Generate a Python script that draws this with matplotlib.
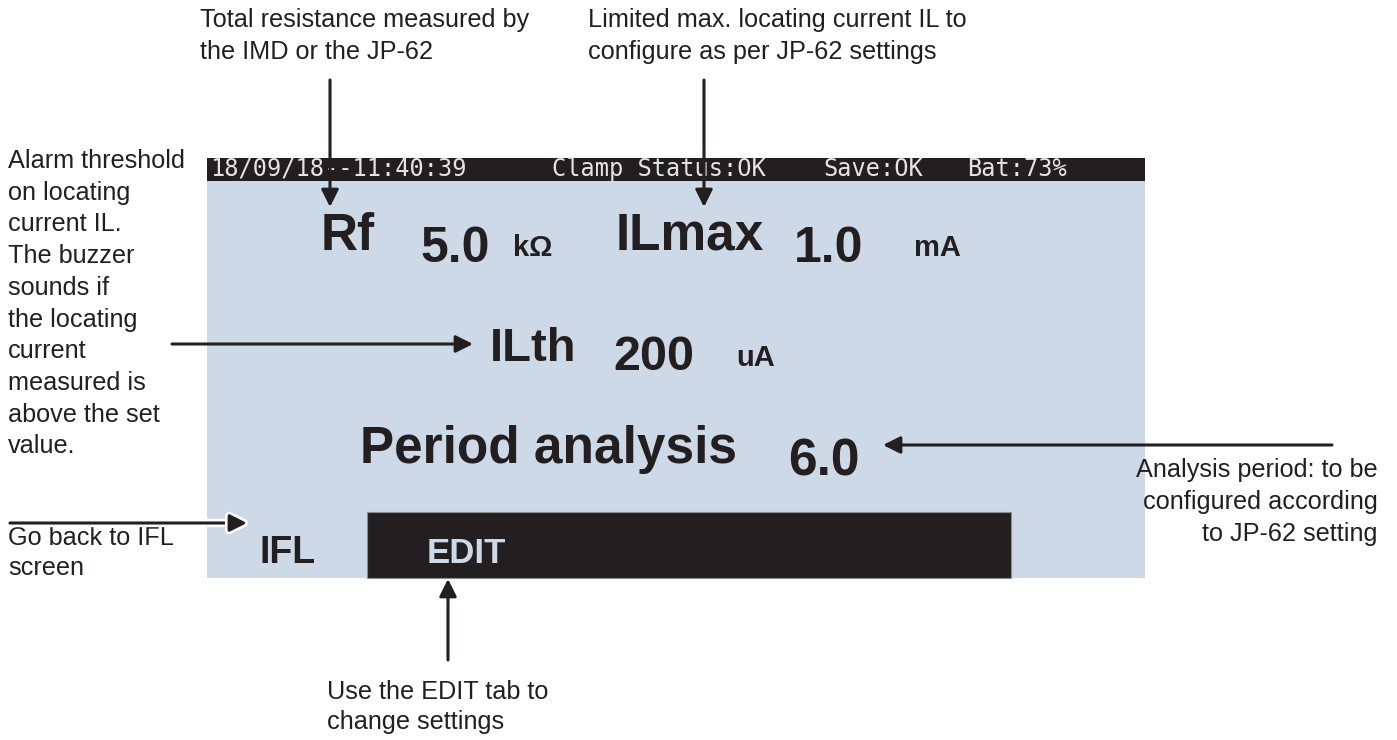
import matplotlib
matplotlib.use("Agg")
import matplotlib.pyplot as plt
from matplotlib.patches import Rectangle
import matplotlib.patheffects as pe

# screen contents
status_items = ["18/09/18--11:40:39", "Clamp Status:OK", "Save:OK", "Bat:73%"]
row1_labels = ["Rf", "ILmax"]
row1_values = ["5.0", "1.0"]
row1_units = ["k\u03a9", "mA"]
ilth_label, ilth_value, ilth_unit = "ILth", "200", "uA"
period_label, period_value = "Period analysis", "6.0"
tabs = ["IFL", "EDIT"]

# callout texts
note_rf = ["Total resistance measured by", "the IMD or the JP-62"]
note_ilmax = ["Limited max. locating current IL to", "configure as per JP-62 settings"]
note_ilth = ["Alarm threshold", "on locating", "current IL.", "The buzzer", "sounds if",
             "the locating", "current", "measured is", "above the set", "value."]
note_period = ["Analysis period: to be", "configured according", "to JP-62 setting"]
note_ifl = ["Go back to IFL", "screen"]
note_edit = ["Use the EDIT tab to", "change settings"]

INK = "#231f20"
LCD = "#cdd9e6"
NOTE_FONT = "Liberation Sans"
LCD_FONT = "Liberation Sans"

fig = plt.figure(figsize=(13.97, 7.40), dpi=100)
ax = fig.add_axes([0, 0, 1, 1])
ax.set_xlim(0, 1397)
ax.set_ylim(740, 0)
ax.axis("off")

# screen panel
ax.add_patch(Rectangle((207, 158), 938, 420, fc=LCD, ec="none"))
ax.add_patch(Rectangle((207, 158), 938, 23, fc=INK, ec="none"))
ax.add_patch(Rectangle((367, 512), 644, 66, fc=INK, ec="#8a8f96", lw=0.8))

# status bar
for s, x in zip(status_items, [210, 552, 823, 967]):
    ax.text(x, 169, s, fontsize=17, family="DejaVu Sans Mono", color="#e4e4e4",
            va="center", ha="left")

bold = dict(family=LCD_FONT, weight="bold", color=INK, va="baseline", ha="left")
# row 1: Rf / ILmax
ax.text(321, 250, row1_labels[0], fontsize=37, **bold)
ax.text(420, 262, row1_values[0], fontsize=36, **bold)
ax.text(513, 256, row1_units[0], fontsize=21, **bold)
ax.text(616, 250, row1_labels[1], fontsize=37, **bold)
ax.text(794, 262, row1_values[1], fontsize=36, **bold)
ax.text(914, 256, row1_units[1], fontsize=21, **bold)

# row 2: ILth
ax.text(490, 361, ilth_label, fontsize=34, **bold)
ax.text(613, 370, ilth_value, fontsize=35, **bold)
ax.text(736, 366, ilth_unit, fontsize=21, **bold)

# row 3: period
ax.text(360, 463, period_label, fontsize=37, **bold)
ax.text(788, 475, period_value, fontsize=37, **bold)

# tabs
ax.text(260, 563, tabs[0], fontsize=27, **bold)
ax.text(427, 563, tabs[1], fontsize=25, family=LCD_FONT, weight="bold", color=LCD,
        va="baseline", ha="left")

# callout notes
def note_lines(lines, x, y0, ha="left", step=32):
    for i, s in enumerate(lines):
        ax.text(x, y0 + i * step, s, va="center", ha=ha, family=NOTE_FONT,
                fontsize=18.2, color=INK)

note_lines(note_rf, 200, 20)
note_lines(note_ilmax, 588, 20)
note_lines(note_ilth, 8, 161, step=31.7)
note_lines(note_period, 1378, 470, ha="right")
note_lines(note_ifl, 8, 538, step=30)
note_lines(note_edit, 327, 692, step=30)

# arrows
arr = dict(arrowstyle="-|>", color=INK, lw=2.2, mutation_scale=26, shrinkA=0, shrinkB=0)
ax.annotate("", xy=(330, 207), xytext=(330, 80), arrowprops=arr)
ax.annotate("", xy=(704, 207), xytext=(704, 80), arrowprops=arr)
ax.annotate("", xy=(473, 344), xytext=(172, 344), arrowprops=arr)
ax.annotate("", xy=(883, 445), xytext=(1332, 445), arrowprops=arr)
ax.annotate("", xy=(448, 579), xytext=(448, 660), arrowprops=arr)
arr_w = dict(arr, path_effects=[pe.withStroke(linewidth=6, foreground="white")])
ax.annotate("", xy=(247, 523), xytext=(10, 523), arrowprops=arr_w)

fig.savefig("out.png", dpi=100)
